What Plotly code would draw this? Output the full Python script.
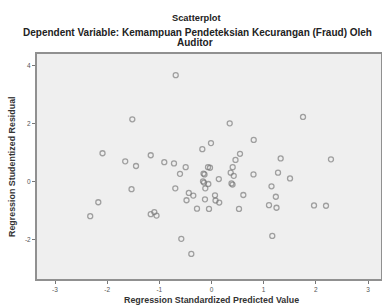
import plotly.graph_objects as go

# Regression Standardized Predicted Value
pred = [-0.686, -1.518, 1.754, 0.349, 0.809, -0.010, -0.176, -2.089, -1.165, 0.546,
        -1.654, -1.447, -0.905, -0.719, -0.495, 0.460, 1.326, 2.290, -0.067, -0.029,
        0.406, -0.604, -0.153, -0.134, 0.368, 0.426, 0.805, 1.275, 1.505, 0.140,
        -0.163, -0.144, -0.061, 0.383, 0.403, -0.119, -0.694, -1.533, 1.150, -0.435,
        -0.349, -0.479, -0.125, 0.067, 0.077, 0.148, 0.610, 1.233, -0.278, -0.048,
        0.527, 1.102, 1.246, 1.965, 2.195, -2.170, -2.325, -1.165, -1.096, -1.054,
        -0.579, 1.165, -0.387]
# Regression Studentized Residual
resid = [3.68, 2.16, 2.24, 2.02, 1.45, 1.34, 1.13, 0.99, 0.92, 0.97,
         0.71, 0.55, 0.68, 0.64, 0.51, 0.76, 0.81, 0.78, 0.51, 0.49,
         0.51, 0.28, 0.29, 0.26, 0.32, 0.21, 0.26, 0.32, 0.12, 0.10,
         0.02, -0.02, -0.07, -0.05, -0.09, -0.22, -0.22, -0.25, -0.15, -0.38,
         -0.47, -0.63, -0.60, -0.46, -0.64, -0.71, -0.45, -0.51, -0.92, -0.93,
         -0.93, -0.80, -0.89, -0.81, -0.82, -0.70, -1.18, -1.11, -1.04, -1.16,
         -1.96, -1.86, -2.48]

x_ticks = [-3, -2, -1, 0, 1, 2, 3]
y_ticks = [-2, 0, 2, 4]

title_text = "Scatterplot"
subtitle_line1 = "Dependent Variable: Kemampuan Pendeteksian Kecurangan (Fraud) Oleh"
subtitle_line2 = "Auditor"
x_title = "Regression Standardized Predicted Value"
y_title = "Regression Studentized Residual"

FONT = "Liberation Sans, Arial, sans-serif"
W, H = 382, 308
L, R, T, B = 37, 1, 54, 29

fig = go.Figure()
fig.add_trace(go.Scatter(
    x=pred, y=resid, mode="markers",
    marker=dict(symbol="circle-open", size=5,
                color="rgba(115,115,115,0.65)",
                line=dict(width=1.3, color="rgba(115,115,115,0.65)")),
    showlegend=False, hoverinfo="x+y"))

axis_common = dict(
    showline=True, linecolor="#909090", linewidth=2, mirror=True,
    showgrid=False, zeroline=False, ticks="outside", ticklen=3,
    tickcolor="#777777", tickwidth=1,
    tickfont=dict(family=FONT, size=6.5, color="#555555"),
)

fig.update_layout(
    width=W, height=H,
    margin=dict(l=L, r=R, t=T, b=B, autoexpand=False),
    paper_bgcolor="white", plot_bgcolor="#efefef",
    font=dict(family=FONT),
    xaxis=dict(range=[-3.345, 3.249], tickvals=x_ticks,
               ticktext=[str(v) for v in x_ticks], **axis_common),
    yaxis=dict(range=[-3.345, 4.41], tickvals=y_ticks,
               ticktext=[str(v) for v in y_ticks], **axis_common),
)

# (text, figure px x, figure px y, size, angle, colour)
labels = [
    ("<b>" + title_text + "</b>", 196, 18, 9.3, 0, "#222222"),
    ("<b>" + subtitle_line1 + "</b>", 197, 32, 10.0, 0, "#222222"),
    ("<b>" + subtitle_line2 + "</b>", 195, 42, 10.0, 0, "#222222"),
    ("<b>" + x_title + "</b>", 211, 300, 8.9, 0, "#333333"),
    ("<b>" + y_title + "</b>", 12, 167, 8.9, -90, "#333333"),
]
pw, ph = W - L - R, H - T - B
annotations = []
for text, px, py, size, ang, col in labels:
    annotations.append(dict(
        text=text, xref="paper", yref="paper",
        x=(px - L) / pw, y=1 - (py - T) / ph,
        showarrow=False, xanchor="center", yanchor="middle",
        textangle=ang, borderpad=0,
        font=dict(size=size, color=col, family=FONT)))
fig.update_layout(annotations=annotations)

fig.write_html("out.html", config={"displayModeBar": False},
               post_script="document.body.style.margin='0';")
